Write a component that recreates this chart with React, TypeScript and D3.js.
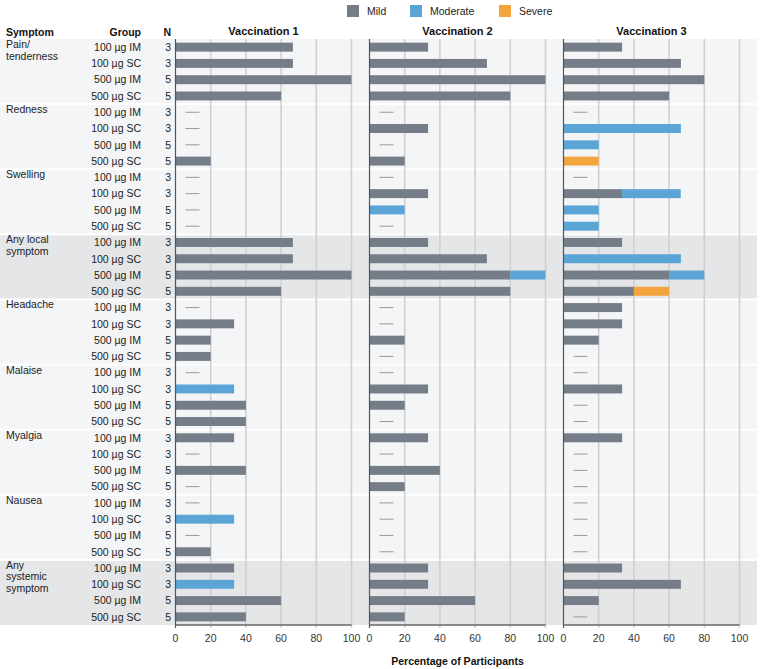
import * as d3 from "d3"

const symptomLines = [
  ["Pain/", "tenderness"],
  ["Redness"],
  ["Swelling"],
  ["Any local", "symptom"],
  ["Headache"],
  ["Malaise"],
  ["Myalgia"],
  ["Nausea"],
  ["Any", "systemic", "symptom"],
]
const summaryRows = [3, 8] // "Any ..." groups get the darker band
const groups = ["100 µg IM", "100 µg SC", "500 µg IM", "500 µg SC"]
const groupN = [3, 3, 5, 5]
const vaccinations = ["Vaccination 1", "Vaccination 2", "Vaccination 3"]
const severities = ["Mild", "Moderate", "Severe"]
const ticks = [0, 20, 40, 60, 80, 100]

// percentage per symptom, per group
const mildV1 = [
  [66.7, 66.7, 100, 60], [0, 0, 0, 20], [0, 0, 0, 0], [66.7, 66.7, 100, 60],
  [0, 33.3, 20, 20], [0, 0, 40, 40], [33.3, 0, 40, 0], [0, 0, 0, 20], [33.3, 0, 60, 40],
]
const moderateV1 = [
  [0, 0, 0, 0], [0, 0, 0, 0], [0, 0, 0, 0], [0, 0, 0, 0],
  [0, 0, 0, 0], [0, 33.3, 0, 0], [0, 0, 0, 0], [0, 33.3, 0, 0], [0, 33.3, 0, 0],
]
const severeV1 = [
  [0, 0, 0, 0], [0, 0, 0, 0], [0, 0, 0, 0], [0, 0, 0, 0],
  [0, 0, 0, 0], [0, 0, 0, 0], [0, 0, 0, 0], [0, 0, 0, 0], [0, 0, 0, 0],
]
const mildV2 = [
  [33.3, 66.7, 100, 80], [0, 33.3, 0, 20], [0, 33.3, 0, 0], [33.3, 66.7, 80, 80],
  [0, 0, 20, 0], [0, 33.3, 20, 0], [33.3, 0, 40, 20], [0, 0, 0, 0], [33.3, 33.3, 60, 20],
]
const moderateV2 = [
  [0, 0, 0, 0], [0, 0, 0, 0], [0, 0, 20, 0], [0, 0, 20, 0],
  [0, 0, 0, 0], [0, 0, 0, 0], [0, 0, 0, 0], [0, 0, 0, 0], [0, 0, 0, 0],
]
const severeV2 = [
  [0, 0, 0, 0], [0, 0, 0, 0], [0, 0, 0, 0], [0, 0, 0, 0],
  [0, 0, 0, 0], [0, 0, 0, 0], [0, 0, 0, 0], [0, 0, 0, 0], [0, 0, 0, 0],
]
const mildV3 = [
  [33.3, 66.7, 80, 60], [0, 0, 0, 0], [0, 33.3, 0, 0], [33.3, 0, 60, 40],
  [33.3, 33.3, 20, 0], [0, 33.3, 0, 0], [33.3, 0, 0, 0], [0, 0, 0, 0], [33.3, 66.7, 20, 0],
]
const moderateV3 = [
  [0, 0, 0, 0], [0, 66.7, 20, 0], [0, 33.3, 20, 20], [0, 66.7, 20, 0],
  [0, 0, 0, 0], [0, 0, 0, 0], [0, 0, 0, 0], [0, 0, 0, 0], [0, 0, 0, 0],
]
const severeV3 = [
  [0, 0, 0, 0], [0, 0, 0, 20], [0, 0, 0, 0], [0, 0, 0, 20],
  [0, 0, 0, 0], [0, 0, 0, 0], [0, 0, 0, 0], [0, 0, 0, 0], [0, 0, 0, 0],
]

const values = [
  [mildV1, moderateV1, severeV1],
  [mildV2, moderateV2, severeV2],
  [mildV3, moderateV3, severeV3],
]

const WIDTH = 761
const HEIGHT = 669
const TOP = 39
const BOTTOM = 625
const FONT = "'Liberation Sans', Arial, Helvetica, sans-serif"
const COLORS = ["#747d88", "#5aa4d6", "#f4a43c"]

export default function App() {
  const rows = symptomLines.flatMap((_, s) => groups.map((_, g) => `${s}-${g}`))

  const yScale = d3
    .scaleBand()
    .domain(rows)
    .range([TOP, BOTTOM])
    .paddingInner(0.45)
    .paddingOuter(0.225)
  const step = yScale.step()

  const panelScale = d3
    .scaleBand()
    .domain(vaccinations)
    .range([175.5, 739.5])
    .paddingInner(18 / 194)
    .paddingOuter(0)
  const color = d3.scaleOrdinal<string>().domain(severities).range(COLORS)

  return (
    <svg width={WIDTH} height={HEIGHT} style={{ position: "absolute", left: 0, top: 0 }} fontFamily={FONT}>
      <rect width={WIDTH} height={HEIGHT} fill="#fff" />

      {/* group bands */}
      {symptomLines.map((_, s) => {
        const y0 = TOP + s * 4 * step
        const y1 = y0 + 4 * step
        return (
          <rect
            key={s}
            x={0}
            y={y0 + (s > 0 ? 1 : 0)}
            width={757}
            height={y1 - y0 - (s > 0 ? 1 : 0) - (s < symptomLines.length - 1 ? 1 : 0)}
            fill={summaryRows.includes(s) ? "#e5e6e8" : "#f4f5f7"}
          />
        )
      })}

      {/* legend */}
      {severities.map((sev, i) => {
        const lx = [347, 410, 499][i]
        return (
          <g key={sev}>
            <rect x={lx} y={5} width={12} height={12} fill={color(sev)} />
            <text x={lx + 20} y={15} fontSize={10.5} fill="#222">
              {sev}
            </text>
          </g>
        )
      })}

      {/* headers */}
      <text x={6} y={36} fontSize={10.5} fontWeight="bold" fill="#111">Symptom</text>
      <text x={141} y={36} fontSize={10.5} fontWeight="bold" fill="#111" textAnchor="end">Group</text>
      <text x={171} y={36} fontSize={10.5} fontWeight="bold" fill="#111" textAnchor="end">N</text>

      {/* row labels */}
      {symptomLines.map((lines, s) => {
        const y0 = TOP + s * 4 * step
        return (
          <g key={s}>
            <text fontSize={10.5} fill="#222">
              {lines.map((l, j) => (
                <tspan key={j} x={6} y={y0 + 9 + j * 11.5}>
                  {l}
                </tspan>
              ))}
            </text>
            {groups.map((g, gi) => {
              const cy = yScale(`${s}-${gi}`)! + yScale.bandwidth() / 2
              return (
                <g key={g}>
                  <text x={141} y={cy + 3.8} fontSize={10.5} fill="#222" textAnchor="end">
                    {g}
                  </text>
                  <text x={171} y={cy + 3.8} fontSize={10.5} fill="#222" textAnchor="end">
                    {groupN[gi]}
                  </text>
                </g>
              )
            })}
          </g>
        )
      })}

      {/* panels */}
      {vaccinations.map((vac, v) => {
        const x0 = panelScale(vac)!
        const xScale = d3.scaleLinear().domain([0, 100]).range([x0, x0 + panelScale.bandwidth()])
        return (
          <g key={vac}>
            <text
              x={(xScale(0) + xScale(100)) / 2}
              y={35}
              fontSize={11}
              fontWeight="bold"
              fill="#111"
              textAnchor="middle"
            >
              {vac}
            </text>
            {ticks.slice(1).map((t) => (
              <line
                key={t}
                x1={xScale(t)}
                x2={xScale(t)}
                y1={TOP}
                y2={BOTTOM + 3}
                stroke="#d0d0d2"
                strokeWidth={1.6}
              />
            ))}
            {rows.map((r) => {
              const [s, g] = r.split("-").map(Number)
              const y = yScale(r)!
              const vals = severities.map((_, k) => values[v][k][s][g])
              const total = d3.sum(vals)
              if (total === 0) {
                return (
                  <line
                    key={r}
                    x1={xScale(0) + 10}
                    x2={xScale(0) + 24}
                    y1={y + yScale.bandwidth() / 2}
                    y2={y + yScale.bandwidth() / 2}
                    stroke="#9a9a9a"
                    strokeWidth={1}
                  />
                )
              }
              let acc = 0
              return (
                <g key={r}>
                  {vals.map((val, k) => {
                    const start = acc
                    acc += val
                    if (val === 0) return null
                    return (
                      <rect
                        key={k}
                        x={xScale(start)}
                        y={y}
                        width={xScale(start + val) - xScale(start)}
                        height={yScale.bandwidth()}
                        fill={color(severities[k])}
                      />
                    )
                  })}
                </g>
              )
            })}
            <line x1={xScale(0)} x2={xScale(0)} y1={TOP} y2={BOTTOM + 3} stroke="#555" strokeWidth={1.2} />
            <line x1={xScale(0)} x2={xScale(100)} y1={BOTTOM} y2={BOTTOM} stroke="#666" strokeWidth={1.5} />
            {ticks.map((t) => (
              <text key={t} x={xScale(t)} y={642} fontSize={10.5} fill="#333" textAnchor="middle">
                {t}
              </text>
            ))}
          </g>
        )
      })}

      <text
        x={(panelScale(vaccinations[1])! * 2 + panelScale.bandwidth()) / 2}
        y={665}
        fontSize={10.5}
        fontWeight="bold"
        fill="#111"
        textAnchor="middle"
      >
        Percentage of Participants
      </text>
    </svg>
  )
}
